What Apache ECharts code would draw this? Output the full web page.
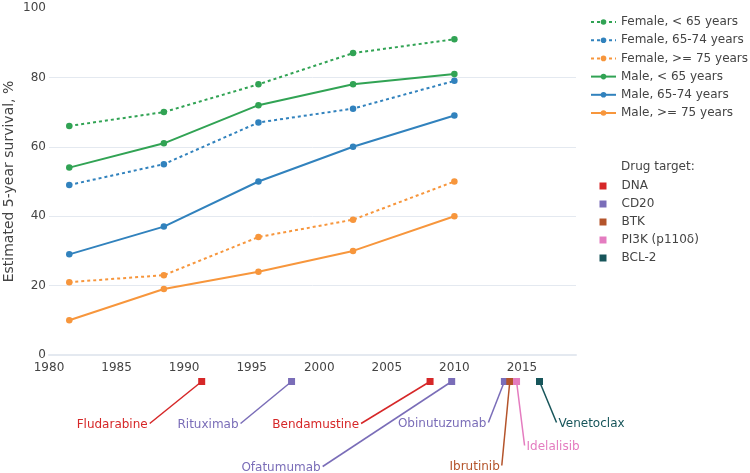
<!DOCTYPE html>
<html>
<head>
<meta charset="utf-8">
<script src="https://cdn.jsdelivr.net/npm/echarts@6/dist/echarts.min.js"></script>
<style>html,body{margin:0;padding:0;background:#fff}#c{width:750px;height:473px}</style>
</head>
<body>
<div id="c"></div>
<script>
// ---- data ----
var periodYears = [1981.5, 1988.5, 1995.5, 2002.5, 2010];
var femaleUnder65 = [66, 70, 78, 87, 91];
var female65to74 = [49, 55, 67, 71, 79];
var female75plus = [21, 23, 34, 39, 50];
var maleUnder65 = [54, 61, 72, 78, 81];
var male65to74 = [29, 37, 50, 60, 69];
var male75plus = [10, 19, 24, 30, 40];
var seriesNames = ['Female, < 65 years', 'Female, 65-74 years', 'Female, >= 75 years',
                   'Male, < 65 years', 'Male, 65-74 years', 'Male, >= 75 years'];
var xTicks = [1980, 1985, 1990, 1995, 2000, 2005, 2010, 2015];
var yTicks = [0, 20, 40, 60, 80, 100];

var drugNames = ['Fludarabine', 'Rituximab', 'Bendamustine', 'Ofatumumab', 'Obinutuzumab', 'Ibrutinib', 'Idelalisib', 'Venetoclax'];
var drugYears = [1991.3, 1997.95, 2008.2, 2009.8, 2013.7, 2014.1, 2014.6, 2016.3];
var drugTargets = ['DNA', 'CD20', 'DNA', 'CD20', 'CD20', 'BTK', 'PI3K (p110δ)', 'BCL-2'];
var targetNames = ['DNA', 'CD20', 'BTK', 'PI3K (p110δ)', 'BCL-2'];

// ---- styles ----
var FONT = '"DejaVu Sans", Verdana, sans-serif';
var TXT = '#444';
var GRID = '#e4e9f0';
var lineColors = ['#31a354', '#3182bd', '#f7963c', '#31a354', '#3182bd', '#f7963c'];
var lineDashed = [true, true, true, false, false, false];
var targetColors = {'DNA': '#d62728', 'CD20': '#7a6db8', 'BTK': '#b4542b', 'PI3K (p110δ)': '#e47cc0', 'BCL-2': '#17555a'};
// annotation leader offsets (px from marker) and text alignment
var annot = {
  'Fludarabine': [-52, 42, 'right'],
  'Rituximab': [-51, 42, 'right'],
  'Bendamustine': [-69, 42, 'right'],
  'Ofatumumab': [-129, 85, 'right'],
  'Obinutuzumab': [-16, 41, 'right'],
  'Ibrutinib': [-8, 84, 'right'],
  'Idelalisib': [8, 64, 'left'],
  'Venetoclax': [17, 41, 'left']
};

var lineData = [femaleUnder65, female65to74, female75plus, maleUnder65, male65to74, male75plus];

var series = [];
lineData.forEach(function (vals, i) {
  series.push({
    name: seriesNames[i], type: 'line', xAxisIndex: 0, yAxisIndex: 0,
    data: periodYears.map(function (y, j) { return [y, vals[j]]; }),
    symbol: 'circle', symbolSize: 6.5, showSymbol: true,
    color: lineColors[i],
    lineStyle: { width: 2, type: lineDashed[i] ? [3, 3] : 'solid', cap: 'butt' },
    itemStyle: { color: lineColors[i] },
    z: 3
  });
});

targetNames.forEach(function (t) {
  var idx = [];
  drugTargets.forEach(function (dt, k) { if (dt === t) idx.push(k); });
  var col = targetColors[t];
  series.push({
    name: t, type: 'custom', xAxisIndex: 1, yAxisIndex: 1,
    color: col, itemStyle: { color: col },
    clip: false,
    data: idx.map(function (k) { return [drugYears[k], 0.5]; }),
    renderItem: function (params, api) {
      var k = idx[params.dataIndex];
      var name = drugNames[k];
      var o = annot[name];
      var p = api.coord([api.value(0), api.value(1)]);
      var ex = p[0] + o[0], ey = p[1] + o[1];
      return {
        type: 'group',
        children: [
          { type: 'line', shape: { x1: p[0], y1: p[1], x2: ex, y2: ey },
            style: { stroke: col, lineWidth: 1.5 } },
          { type: 'rect', shape: { x: p[0] - 3.5, y: p[1] - 3.5, width: 7, height: 7 },
            style: { fill: col } },
          { type: 'text', x: ex + (o[2] === 'right' ? -2 : 2), y: ey + 1,
            style: { text: name, fill: col, fontSize: 12, fontFamily: FONT,
                     align: o[2], verticalAlign: 'middle' } }
        ]
      };
    }
  });
});

var chart = echarts.init(document.getElementById('c'), null, { renderer: 'canvas' });
chart.setOption({
  animation: false,
  backgroundColor: '#fff',
  textStyle: { fontFamily: FONT },
  title: {
    text: 'Drug target:', left: 621, top: 161, padding: 0,
    textStyle: { fontSize: 12, fontWeight: 'normal', color: TXT, fontFamily: FONT }
  },
  grid: [
    { left: 49, right: 174, top: 8, bottom: 118, outerBoundsMode: 'none', containLabel: false },
    { left: 49, right: 174, top: 376, height: 11, outerBoundsMode: 'none', containLabel: false }
  ],
  xAxis: [
    { type: 'value', gridIndex: 0, min: xTicks[0], max: 2019, interval: 5,
      axisLine: { show: true, lineStyle: { color: GRID, width: 2 } },
      axisTick: { show: false }, splitLine: { show: false },
      axisLabel: { color: TXT, fontSize: 12, fontFamily: FONT, margin: 7,
                   showMaxLabel: false, formatter: function (v) { return String(v); } } },
    { type: 'value', gridIndex: 1, min: xTicks[0], max: 2019, show: false }
  ],
  yAxis: [
    { type: 'value', gridIndex: 0, min: yTicks[0], max: yTicks[yTicks.length - 1], interval: 20,
      name: 'Estimated 5-year survival, %', nameLocation: 'middle', nameGap: 33,
      nameMoveOverlap: false,
      nameTextStyle: { color: TXT, fontSize: 14, fontFamily: FONT },
      axisLine: { show: false }, axisTick: { show: false },
      axisLabel: { color: TXT, fontSize: 12, fontFamily: FONT, margin: 3 },
      splitLine: { show: true, lineStyle: { width: 1, color: [GRID, GRID, GRID, GRID, GRID, 'rgba(0,0,0,0)'] } } },
    { type: 'value', gridIndex: 1, min: 0, max: 1, show: false }
  ],
  legend: [
    { data: seriesNames, orient: 'vertical', left: 590, top: 16, padding: 0,
      itemWidth: 25, itemHeight: 7, itemGap: 6.2,
      textStyle: { color: TXT, fontSize: 12, fontFamily: FONT } },
    { data: targetNames.map(function (t) { return { name: t, icon: 'rect' }; }),
      orient: 'vertical', left: 599.5, top: 180, padding: 0,
      itemWidth: 7, itemHeight: 7, itemGap: 6,
      textStyle: { color: TXT, fontSize: 12, fontFamily: FONT, padding: [0, 0, 0, 10] } }
  ],
  series: series
});
</script>
</body>
</html>
